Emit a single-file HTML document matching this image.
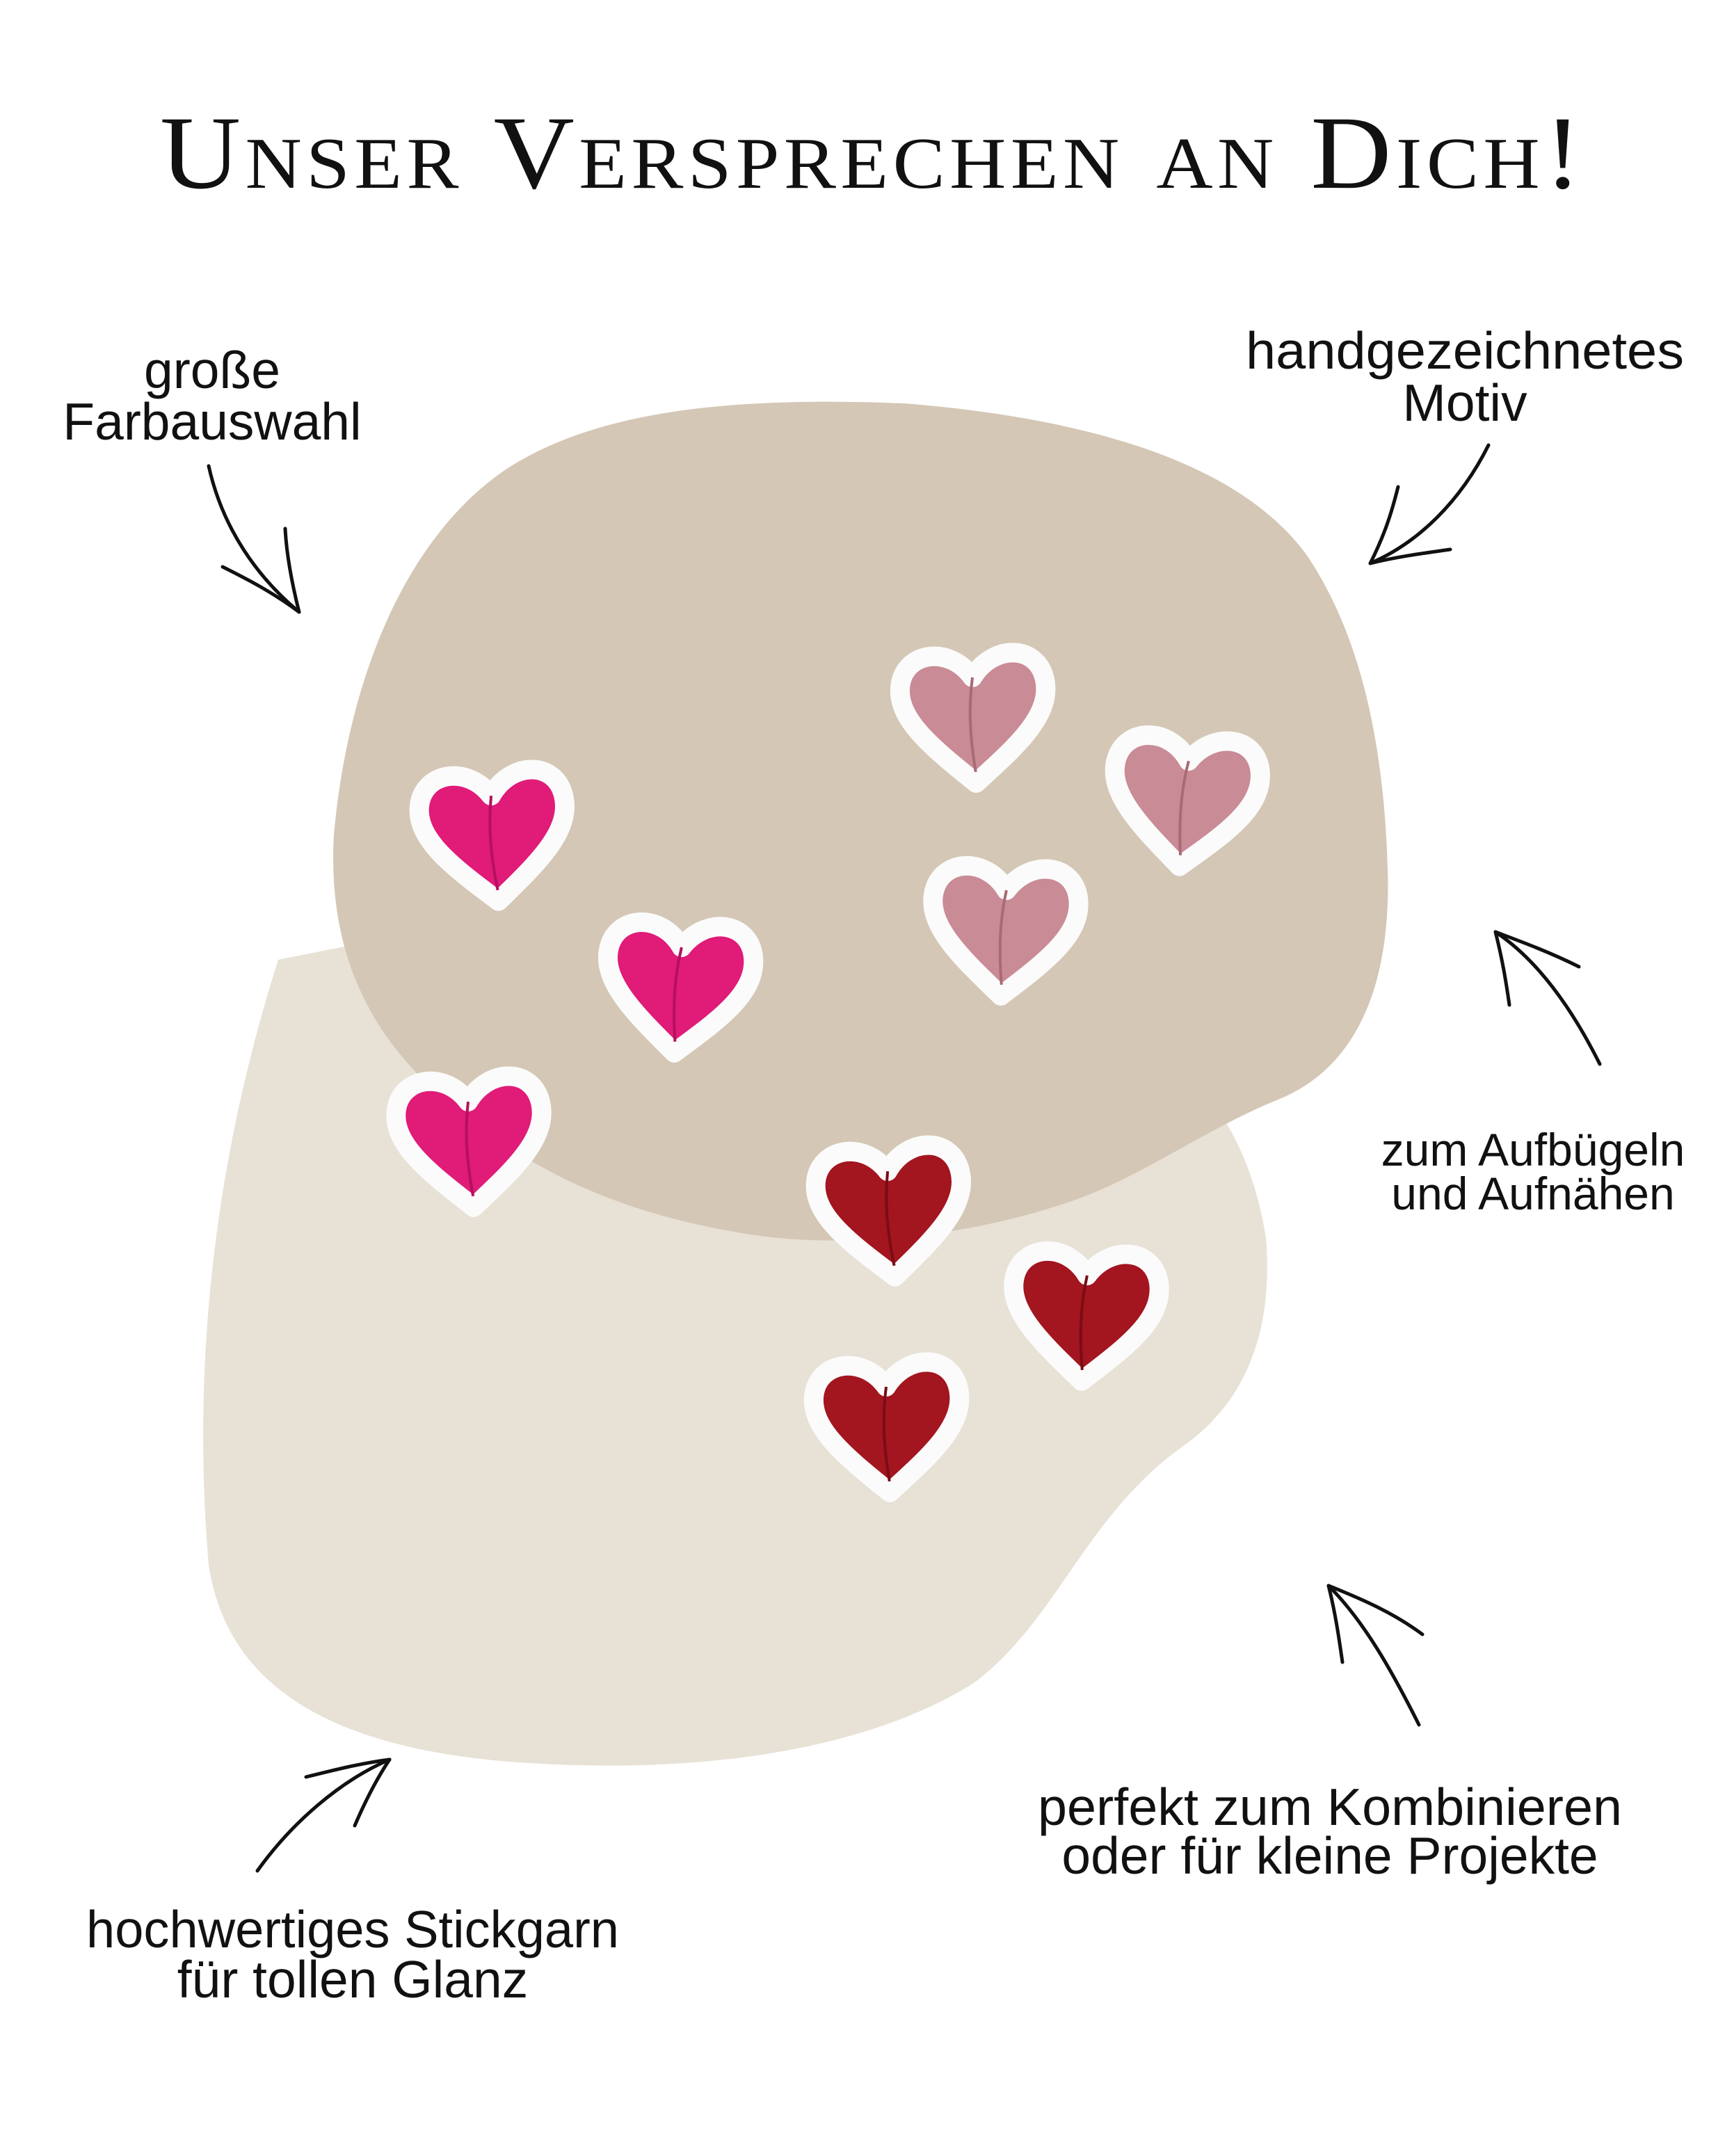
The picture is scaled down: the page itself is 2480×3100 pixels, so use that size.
<!DOCTYPE html>
<html><head><meta charset="utf-8"><style>html,body{margin:0;padding:0;background:#fff}svg{display:block}</style></head>
<body>
<svg width="2480" height="3100" viewBox="0 0 2480 3100" xmlns="http://www.w3.org/2000/svg">
<rect width="2480" height="3100" fill="#fff"/>
<text x="1255" y="270" text-anchor="middle" font-family="Liberation Serif, serif" font-size="150" style="font-variant:small-caps" letter-spacing="6" textLength="2050" lengthAdjust="spacingAndGlyphs" fill="#111">Unser Versprechen an Dich!</text>

<path d="M400,1380 C330,1600 270,1900 300,2250 C330,2450 520,2520 760,2535 C1000,2550 1240,2520 1400,2420 C1520,2330 1560,2180 1700,2080 C1800,2010 1830,1900 1820,1780 C1800,1650 1740,1560 1660,1500 L800,1300 Z" fill="#e8e1d6"/>
<path d="M480,1200 C500,980 580,780 720,680 C850,590 1050,570 1300,580 C1550,600 1780,660 1880,800 C1960,920 1990,1080 1995,1250 C2000,1400 1960,1530 1840,1580 C1740,1620 1660,1680 1560,1720 C1400,1780 1200,1800 1050,1770 C880,1740 760,1680 650,1590 C540,1500 470,1380 480,1200 Z" fill="#d4c7b5"/>

<defs>
<path id="h" d="M0,48 C-30,22 -56,0 -52,-24 C-48,-48 -16,-52 0,-28 C16,-52 48,-50 52,-24 C56,2 28,24 0,48 Z"/>
</defs>
<g stroke-linejoin="round">
<g transform="translate(710,1200) rotate(-4) scale(2.0)"><use href="#h" fill="#e01b78" stroke="#fbfbfb" stroke-width="14"/><path d="M0,40 C-4,10 -3,-10 0,-28" stroke="#b5105f" stroke-width="2" fill="none"/></g>
<g transform="translate(976,1418) rotate(4) scale(2.0)"><use href="#h" fill="#e01b78" stroke="#fbfbfb" stroke-width="14"/><path d="M0,40 C-4,10 -3,-10 0,-28" stroke="#b5105f" stroke-width="2" fill="none"/></g>
<g transform="translate(676,1640) rotate(-3) scale(2.0)"><use href="#h" fill="#e01b78" stroke="#fbfbfb" stroke-width="14"/><path d="M0,40 C-4,10 -3,-10 0,-28" stroke="#b5105f" stroke-width="2" fill="none"/></g>
<g transform="translate(1400,1030) rotate(-2) scale(2.0)"><use href="#h" fill="#c98b96" stroke="#fbfbfb" stroke-width="14"/><path d="M0,40 C-4,10 -3,-10 0,-28" stroke="#a86a75" stroke-width="2" fill="none"/></g>
<g transform="translate(1704,1150) rotate(5) scale(2.0)"><use href="#h" fill="#c98b96" stroke="#fbfbfb" stroke-width="14"/><path d="M0,40 C-4,10 -3,-10 0,-28" stroke="#a86a75" stroke-width="2" fill="none"/></g>
<g transform="translate(1444,1336) rotate(3) scale(2.0)"><use href="#h" fill="#c98b96" stroke="#fbfbfb" stroke-width="14"/><path d="M0,40 C-4,10 -3,-10 0,-28" stroke="#a86a75" stroke-width="2" fill="none"/></g>
<g transform="translate(1280,1740) rotate(-4) scale(2.0)"><use href="#h" fill="#a3151f" stroke="#fbfbfb" stroke-width="14"/><path d="M0,40 C-4,10 -3,-10 0,-28" stroke="#7a0c15" stroke-width="2" fill="none"/></g>
<g transform="translate(1560,1890) rotate(3) scale(2.0)"><use href="#h" fill="#a3151f" stroke="#fbfbfb" stroke-width="14"/><path d="M0,40 C-4,10 -3,-10 0,-28" stroke="#7a0c15" stroke-width="2" fill="none"/></g>
<g transform="translate(1276,2050) rotate(-2) scale(2.0)"><use href="#h" fill="#a3151f" stroke="#fbfbfb" stroke-width="14"/><path d="M0,40 C-4,10 -3,-10 0,-28" stroke="#7a0c15" stroke-width="2" fill="none"/></g>
</g>

<g fill="none" stroke="#111" stroke-width="5" stroke-linecap="round">
<path d="M300,670 C320,760 370,830 430,880"/><path d="M430,880 C390,850 350,830 320,815"/><path d="M430,880 C420,840 412,800 410,760"/>
<path d="M2140,640 C2100,720 2040,780 1970,810"/><path d="M1970,810 C1990,770 2000,740 2010,700"/><path d="M1970,810 C2010,800 2050,795 2085,790"/>
<path d="M2300,1530 C2260,1450 2210,1380 2150,1340"/><path d="M2150,1340 C2160,1380 2165,1410 2170,1445"/><path d="M2150,1340 C2190,1355 2230,1370 2270,1390"/>
<path d="M2040,2480 C2000,2400 1960,2330 1910,2280"/><path d="M1910,2280 C1920,2320 1925,2355 1930,2390"/><path d="M1910,2280 C1960,2300 2005,2320 2045,2350"/>
<path d="M370,2690 C420,2620 490,2560 560,2530"/><path d="M560,2530 C540,2560 525,2590 510,2625"/><path d="M560,2530 C520,2535 480,2545 440,2555"/>
</g>

<g font-family="Liberation Sans, sans-serif" font-size="75" fill="#111" text-anchor="middle">
<text x="305" y="558">große</text>
<text x="305" y="632">Farbauswahl</text>
<text x="2132" y="530" textLength="630" lengthAdjust="spacingAndGlyphs" transform="translate(-26,0)">handgezeichnetes</text>
<text x="2106" y="605">Motiv</text>
<text x="2204" y="1676" font-size="66">zum Aufbügeln</text>
<text x="2204" y="1739" font-size="66">und Aufnähen</text>
<text x="1912" y="2624" textLength="840" lengthAdjust="spacingAndGlyphs">perfekt zum Kombinieren</text>
<text x="1912" y="2694">oder für kleine Projekte</text>
<text x="507" y="2800" textLength="766" lengthAdjust="spacingAndGlyphs">hochwertiges Stickgarn</text>
<text x="507" y="2872">für tollen Glanz</text>
</g>
</svg>
</body></html>
